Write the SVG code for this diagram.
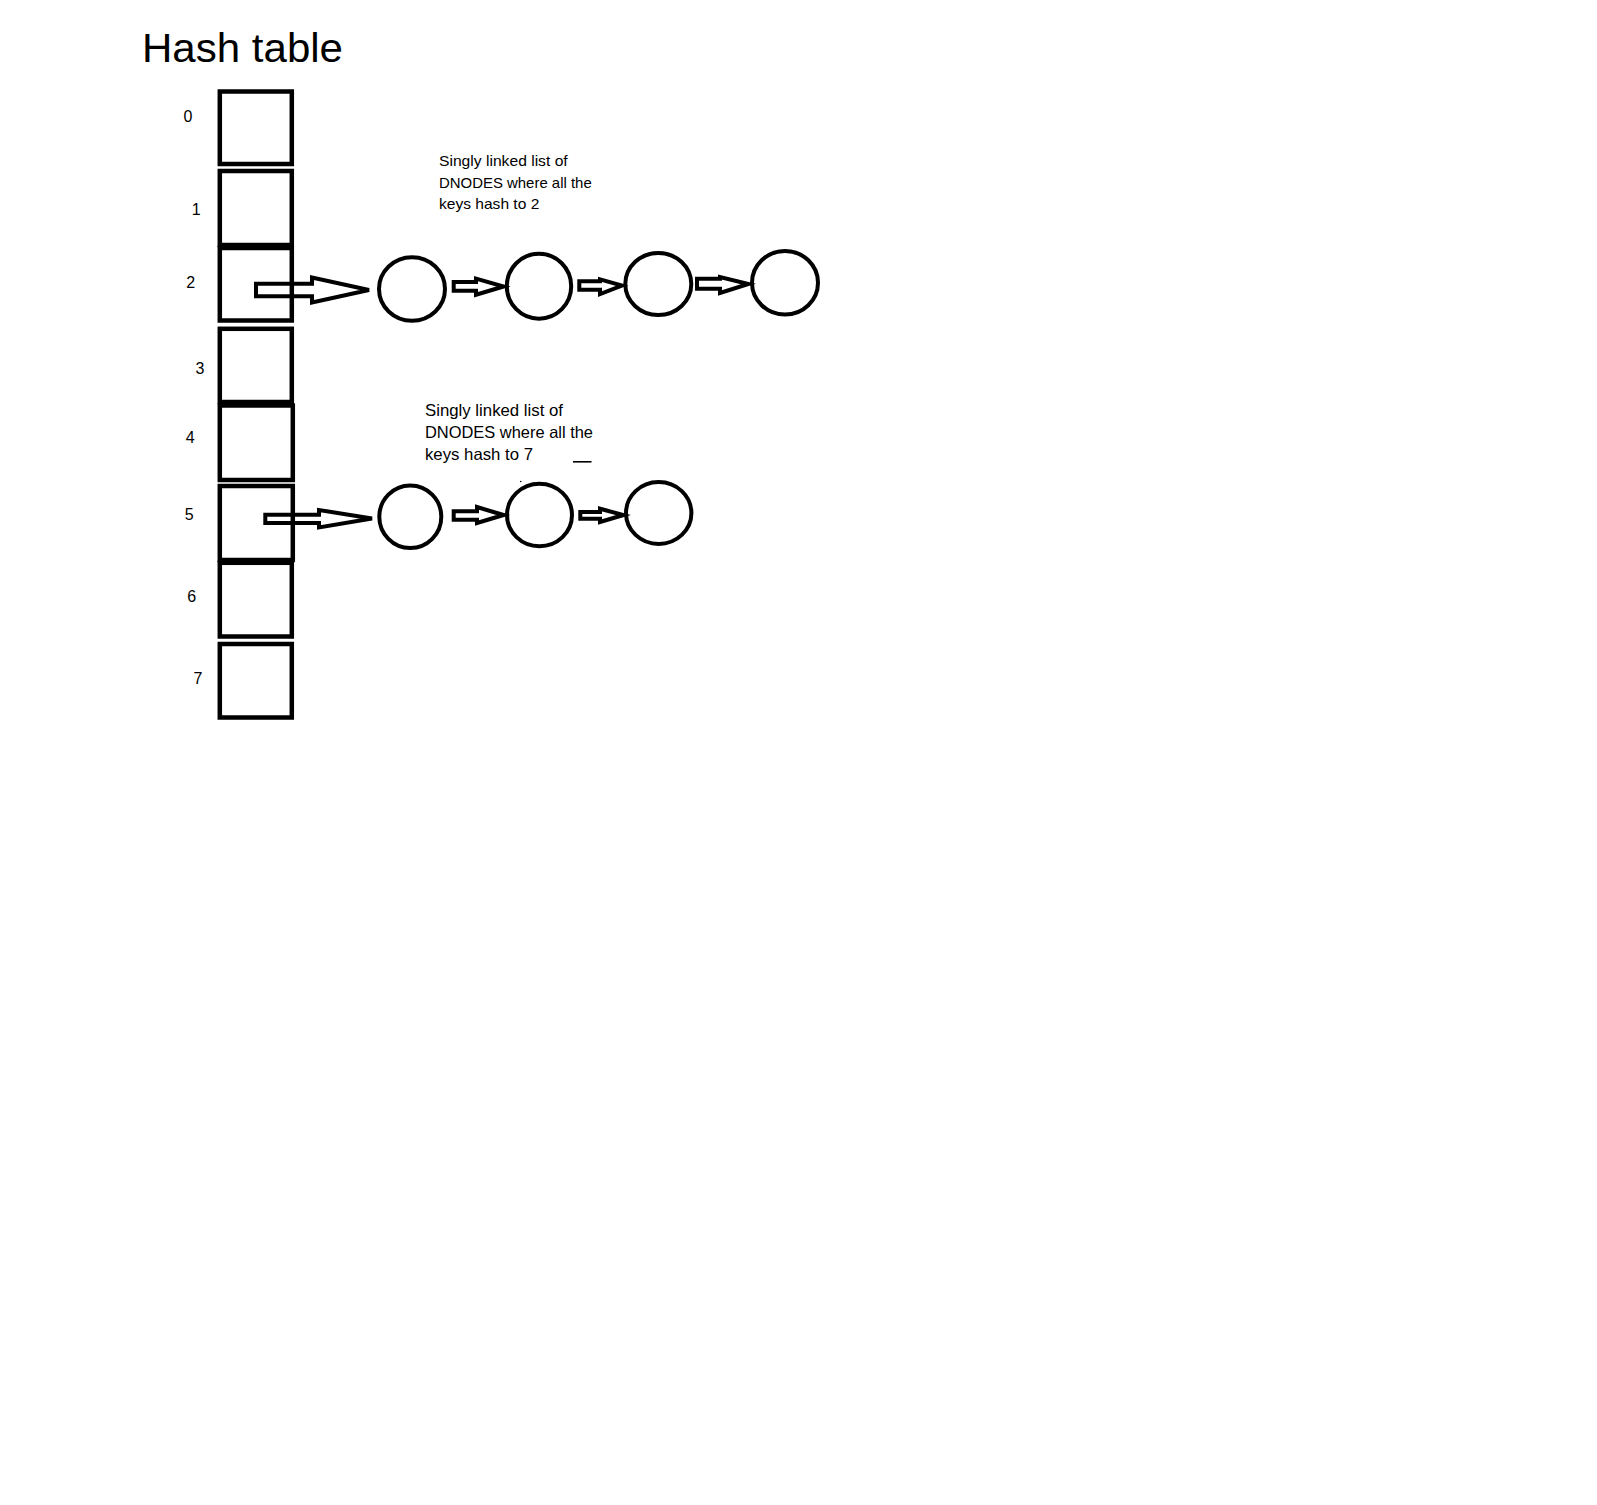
<svg xmlns="http://www.w3.org/2000/svg" width="1597" height="1505" viewBox="0 0 1597 1505">
<style>
.bg{fill:#fff}
.slot{fill:none;stroke:#000;stroke-width:4.5}
.node{fill:none;stroke:#000;stroke-width:4}
.arr{fill:none;stroke:#000;stroke-width:4;stroke-linejoin:miter}
.title{font-family:"Liberation Sans",Arial,sans-serif;font-size:40px;fill:#000}
.idx{font-family:"Liberation Sans",Arial,sans-serif;font-size:16px;fill:#000;text-anchor:middle}
.note1{font-family:"Liberation Sans",Arial,sans-serif;font-size:15px;fill:#000}
.note2{font-family:"Liberation Sans",Arial,sans-serif;font-size:16.5px;fill:#000}
</style>
<rect class="bg" x="0" y="0" width="1597" height="1505"/>
<text class="title" x="142" y="61.7" textLength="201" lengthAdjust="spacingAndGlyphs">Hash table</text>

<g id="table">
  <g id="slot0"><rect class="slot" x="219.8" y="91.5" width="72" height="72.5"/><text class="idx" x="188" y="121.7">0</text></g>
  <g id="slot1"><rect class="slot" x="219.8" y="171" width="72" height="74"/><text class="idx" x="196.3" y="215">1</text></g>
  <g id="slot2"><rect class="slot" x="219.8" y="248" width="72" height="72.5"/><text class="idx" x="190.8" y="288.3">2</text></g>
  <g id="slot3"><rect class="slot" x="219.8" y="328.8" width="72" height="73.2"/><text class="idx" x="200" y="374">3</text></g>
  <g id="slot4"><rect class="slot" x="219.8" y="405.5" width="73" height="74.5"/><text class="idx" x="190.2" y="443.3">4</text></g>
  <g id="slot5"><rect class="slot" x="219.8" y="486" width="73" height="74"/><text class="idx" x="189.2" y="520">5</text></g>
  <g id="slot6"><rect class="slot" x="219.8" y="562.8" width="72" height="73.7"/><text class="idx" x="191.7" y="602.3">6</text></g>
  <g id="slot7"><rect class="slot" x="219.8" y="644" width="72" height="73.5"/><text class="idx" x="198" y="684">7</text></g>
</g>

<g id="note-list2">
  <text class="note1" x="439" y="165.7" textLength="128.7" lengthAdjust="spacingAndGlyphs">Singly linked list of</text>
  <text class="note1" x="439" y="187.7" textLength="152.7" lengthAdjust="spacingAndGlyphs">DNODES where all the</text>
  <text class="note1" x="439" y="209.3" textLength="100.3" lengthAdjust="spacingAndGlyphs">keys hash to 2</text>
</g>

<g id="note-list7">
  <text class="note2" x="425" y="415.7" textLength="138" lengthAdjust="spacingAndGlyphs">Singly linked list of</text>
  <text class="note2" x="425" y="438.3" textLength="168" lengthAdjust="spacingAndGlyphs">DNODES where all the</text>
  <text class="note2" x="425" y="460" textLength="108" lengthAdjust="spacingAndGlyphs">keys hash to 7</text>
  <line x1="573" y1="461.8" x2="591.5" y2="461.8" stroke="#000" stroke-width="1.6"/>
  <circle cx="520.8" cy="481.5" r="0.8" fill="#000"/>
</g>

<g id="list2-node1"><ellipse class="node" cx="412" cy="289" rx="33" ry="31.8"/></g>
<g id="list2-node2"><ellipse class="node" cx="539" cy="286.2" rx="32.2" ry="32.5"/></g>
<g id="list2-node3"><ellipse class="node" cx="658.3" cy="284" rx="33" ry="31"/></g>
<g id="list2-node4"><ellipse class="node" cx="785" cy="282.8" rx="33" ry="31.8"/></g>

<g id="list7-node1"><ellipse class="node" cx="410.3" cy="516.7" rx="31" ry="31.3"/></g>
<g id="list7-node2"><ellipse class="node" cx="539.5" cy="515" rx="32.5" ry="31.3"/></g>
<g id="list7-node3"><ellipse class="node" cx="658.7" cy="513" rx="32.7" ry="31"/></g>

<g id="connectors">
  <polygon class="arr" points="256,283.7 312,283.7 312,277.5 369,290 312,302.5 312,296.3 256,296.3"/>
  <polygon class="arr" points="453.7,282 476,282 476,278.7 503.5,286.5 476,294.7 476,290.7 453.7,290.7"/>
  <polygon class="arr" points="579.3,281.3 600,281.3 600,279.3 622,285.5 600,294 600,289.7 579.3,289.7"/>
  <polygon class="arr" points="697,278.7 720,278.7 720,277 748.5,284 720,293 720,288.7 697,288.7"/>
  <polygon class="arr" points="265.3,514.7 319,514.7 319,510 372,518.5 319,527.5 319,523 265.3,523"/>
  <polygon class="arr" points="453.7,511.3 477,511.3 477,507 503.5,515 477,523 477,519.7 453.7,519.7"/>
  <polygon class="arr" points="580.3,512 600,512 600,508.7 623.5,515 600,522 600,518.7 580.3,518.7"/>
</g>
</svg>
